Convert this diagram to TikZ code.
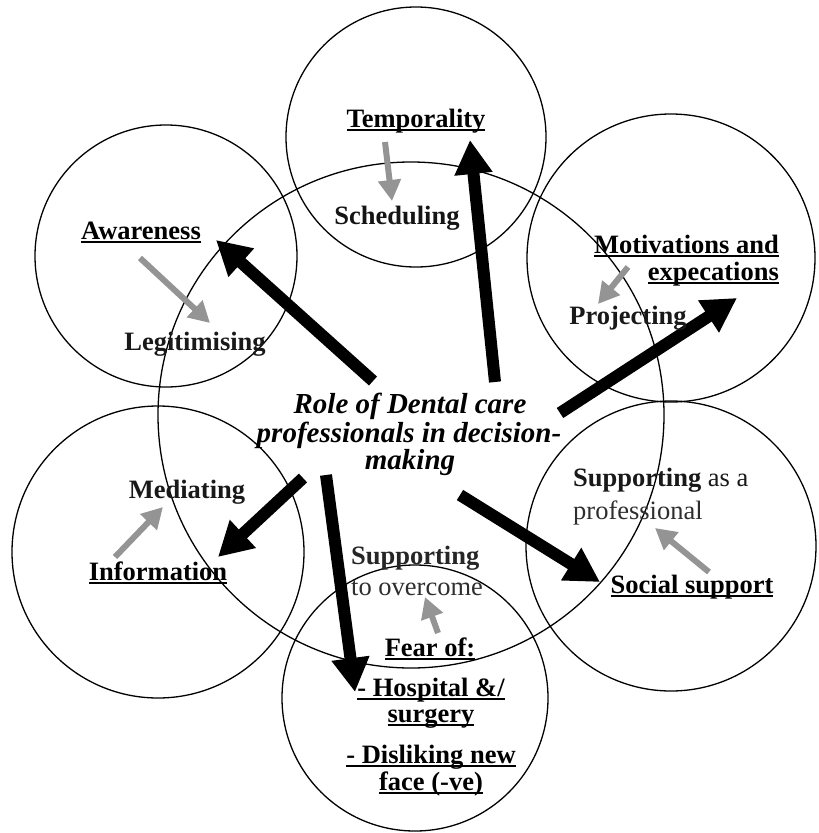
\documentclass[tikz,border=0pt]{standalone}
\usepackage{fontspec}
\setmainfont{Liberation Serif}
\usetikzlibrary{arrows.meta}
\newsavebox\ulbox
\newcommand\ulx[1]{\sbox\ulbox{#1}\rlap{\rule[-3.8pt]{\wd\ulbox}{1.9pt}}\usebox\ulbox}
\begin{document}
\begin{tikzpicture}[x=1pt,y=-1pt,
 circ/.style={circle,draw=black,line width=1.3pt,inner sep=0pt},
 bigarrow/.style={line width=12pt,-{Triangle[length=34pt,width=36pt]}},
 smallarrow/.style={draw=black!42,line width=6pt,-{Triangle[length=21pt,width=22pt]}},
 lab/.style={font=\fontsize{26.5}{28}\selectfont\bfseries,inner sep=0pt,anchor=base},
 ctext/.style={font=\fontsize{29}{29}\selectfont\bfseries\itshape,inner sep=0pt,anchor=base}]
\useasboundingbox (0,0) rectangle (819,833);
% circles
\node[circ,minimum size=506pt] (cmain) at (411,415) {};
\node[circ,minimum size=260pt] (ctop) at (416,137) {};
\node[circ,minimum size=262pt] (caw) at (166,256) {};
\node[circ,minimum size=288pt] (cmot) at (671,258) {};
\node[circ,minimum size=290pt] (csoc) at (671,546) {};
\node[circ,minimum size=266pt] (cfear) at (415,698) {};
\node[circ,minimum size=292pt] (cinf) at (158,552) {};
% big arrow end points
\coordinate (s1) at (495,382); \coordinate (e1) at (470,140);
\coordinate (s2) at (373,381); \coordinate (e2) at (216,240);
\coordinate (s3) at (560,413); \coordinate (e3) at (737,298);
\coordinate (s4) at (460,495); \coordinate (e4) at (600,582);
\coordinate (s5) at (326,475); \coordinate (e5) at (355,692);
\coordinate (s6) at (303,478); \coordinate (e6) at (218,557);
\draw[bigarrow] (s1) -- (e1);
\draw[bigarrow] (s2) -- (e2);
\draw[bigarrow] (s3) -- (e3);
\draw[bigarrow] (s4) -- (e4);
\draw[bigarrow] (s5) -- (e5);
\draw[bigarrow] (s6) -- (e6);
% small arrow end points
\coordinate (g1s) at (385,142); \coordinate (g1e) at (392,201);
\coordinate (g2s) at (140,258); \coordinate (g2e) at (210,323);
\coordinate (g3s) at (628,267); \coordinate (g3e) at (598,304);
\coordinate (g4s) at (115,557); \coordinate (g4e) at (163,507);
\coordinate (g5s) at (709,572); \coordinate (g5e) at (655,528);
\coordinate (g6s) at (438,633); \coordinate (g6e) at (425,597);
\draw[smallarrow] (g1s) -- (g1e);
\draw[smallarrow] (g2s) -- (g2e);
\draw[smallarrow] (g3s) -- (g3e);
\draw[smallarrow] (g4s) -- (g4e);
\draw[smallarrow] (g5s) -- (g5e);
\draw[smallarrow] (g6s) -- (g6e);
% labels
\node[lab] (temp) at (416,127) {\ulx{Temporality}};
\node[lab,text=black!92] (sched) at (397,224) {Scheduling};
\node[lab] (aware) at (141,239) {\ulx{Awareness}};
\node[lab,text=black!90] (legit) at (195,350) {Legitimising};
\node[lab,anchor=base east] (mot1) at (779,253) {\ulx{Motivations and}};
\node[lab,anchor=base east] (mot2) at (779,280) {\ulx{expecations}};
\node[lab,text=black!90] (proj) at (628,324) {Projecting};
\node[lab,text=black!90] (med) at (187,498) {Mediating};
\node[lab] (info) at (158,580) {\ulx{Information}};
\node[lab,anchor=base west,text=black!90] (sup1) at (573,486) {Supporting \mdseries as a};
\node[lab,anchor=base west,text=black!82] (sup2) at (573,519) {\mdseries professional};
\node[lab] (soc) at (692,593) {\ulx{Social support}};
\node[lab,anchor=base west,text=black!85] (ov1) at (351,564) {Supporting};
\node[lab,anchor=base west,text=black!82] (ov2) at (351,595) {\mdseries to overcome};
\node[lab] (fear) at (430,656) {\ulx{Fear of:}};
\node[lab] (hosp) at (431,696) {\ulx{- Hospital \&/}};
\node[lab] (surg) at (431,722) {\ulx{surgery}};
\node[lab] (disl) at (431,763) {\ulx{- Disliking new}};
\node[lab] (face) at (431,790) {\ulx{face (-ve)}};
% centre text
\node[ctext] (role1) at (410,413) {Role of Dental care};
\node[ctext] (role2) at (409,442) {professionals in decision-};
\node[ctext] (role3) at (410,469) {making};
\end{tikzpicture}
\end{document}
